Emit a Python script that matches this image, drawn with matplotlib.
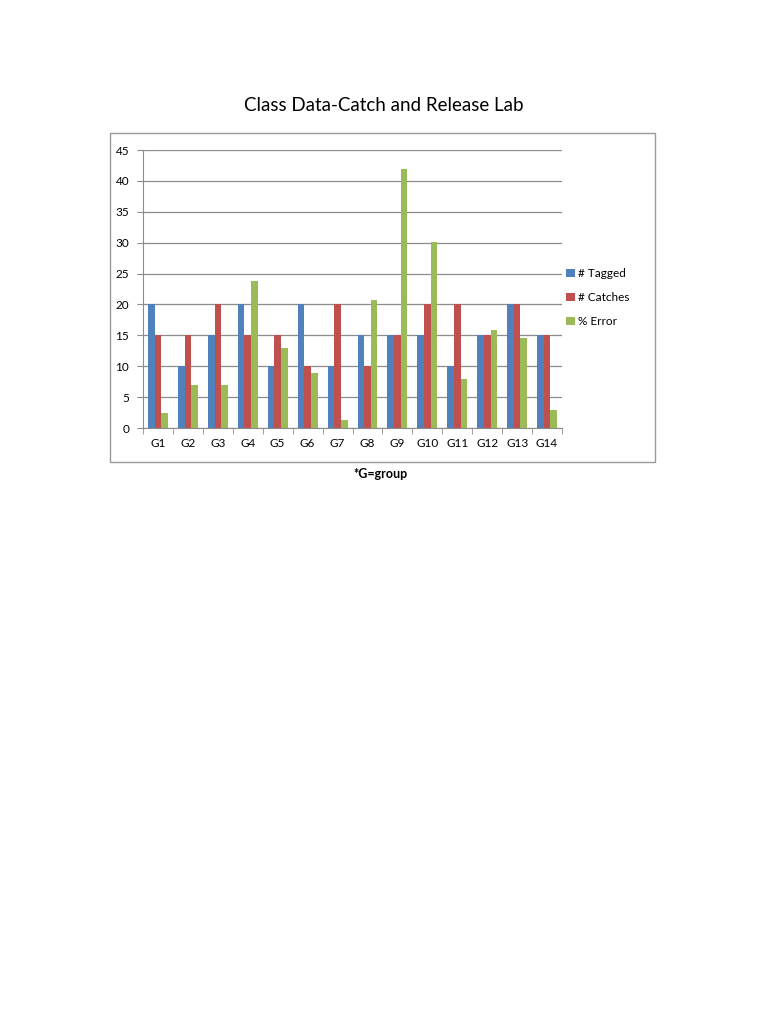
import matplotlib.pyplot as plt
from matplotlib.patches import Rectangle
import numpy as np

plt.rcParams['font.family'] = ['Lato', 'DejaVu Sans']

grupos = ['G1', 'G2', 'G3', 'G4', 'G5', 'G6', 'G7', 'G8', 'G9', 'G10', 'G11', 'G12', 'G13', 'G14']
tagged = [20, 10, 15, 20, 10, 20, 10, 15, 15, 15, 10, 15, 20, 15]
catches = [15, 15, 20, 15, 15, 10, 20, 10, 15, 20, 20, 15, 20, 15]
error = [2.4, 6.9, 7.0, 23.8, 12.9, 8.9, 1.3, 20.7, 42.0, 30.1, 8.0, 15.9, 14.5, 2.9]

azul = '#4F81BD'
rojo = '#C0504D'
verde = '#9BBB59'

fig = plt.figure(figsize=(7.68, 10.24), dpi=100)

# marco del grafico
marco = Rectangle((0.1432, 0.5488), 0.7097, 0.3213, transform=fig.transFigure,
                  fill=False, edgecolor='#9a9a9a', linewidth=1.0)
fig.patches.append(marco)

ax = fig.add_axes([0.1862, 0.582, 0.5456, 0.2715])
x = np.arange(len(grupos))
w = 0.222
ax.bar(x - w, tagged, w, color=azul, label='# Tagged')
ax.bar(x, catches, w, color=rojo, label='# Catches')
ax.bar(x + w, error, w, color=verde, label='% Error')

ax.set_xlim(-0.5, len(grupos) - 0.5)
ax.set_ylim(0, 45)
ax.set_yticks(range(0, 46, 5))
ax.yaxis.grid(True, color='#8c8c8c', linewidth=0.9)
ax.set_axisbelow(True)
for s in ['top', 'right']:
    ax.spines[s].set_visible(False)
ax.spines['left'].set_color('#8c8c8c')
ax.spines['bottom'].set_color('#8c8c8c')
ax.set_xticks(x)
ax.set_xticklabels(grupos)
ax.tick_params(axis='x', length=0, labelsize=8.5, pad=7)
ax.set_xticks(np.arange(-0.5, len(grupos), 1), minor=True)
ax.tick_params(axis='x', which='minor', length=4, color='#8c8c8c', direction='out')
ax.tick_params(axis='y', length=4, color='#8c8c8c', labelsize=8.5, pad=6)

ax.legend(loc='center left', bbox_to_anchor=(0.985, 0.47), frameon=False, fontsize=8.5,
          handlelength=0.7, handleheight=0.7, handletextpad=0.3, labelspacing=1.1)

fig.text(0.5, 0.897, 'Class Data-Catch and Release Lab', ha='center', va='center', fontsize=13.5)
fig.text(0.495, 0.537, '*G=group', ha='center', va='center', fontsize=9, fontweight='bold')

fig.savefig('out.png', dpi=100)
